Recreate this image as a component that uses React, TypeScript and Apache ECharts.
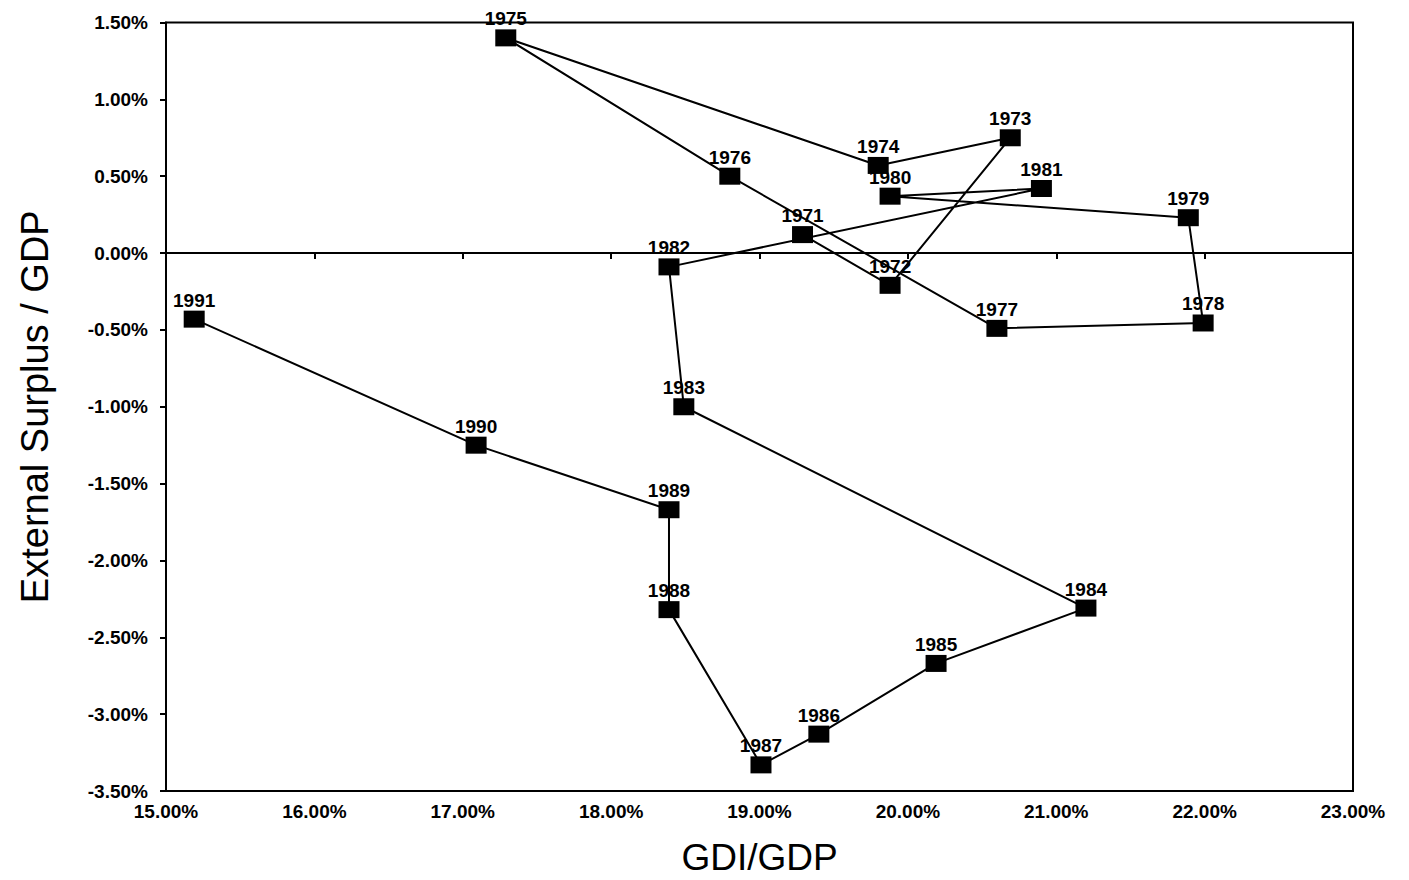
import React, { useEffect, useRef } from "react";
import * as echarts from "echarts";

const years = [1971, 1972, 1973, 1974, 1975, 1976, 1977, 1978, 1979, 1980, 1981, 1982, 1983, 1984, 1985, 1986, 1987, 1988, 1989, 1990, 1991];
const gdiGdp = [19.29, 19.88, 20.69, 19.8, 17.29, 18.8, 20.6, 21.99, 21.89, 19.88, 20.9, 18.39, 18.49, 21.2, 20.19, 19.4, 19.01, 18.39, 18.39, 17.09, 15.19];
const surplusGdp = [0.12, -0.21, 0.75, 0.57, 1.4, 0.5, -0.49, -0.455, 0.23, 0.37, 0.42, -0.09, -1.0, -2.31, -2.67, -3.13, -3.33, -2.32, -1.67, -1.25, -0.43];

const FONT = "'Liberation Sans', Arial, sans-serif";

export default function App() {
  const ref = useRef<HTMLDivElement>(null);
  useEffect(() => {
    if (!ref.current) return;
    const chart = echarts.init(ref.current, undefined, { renderer: "svg" });
    const data = years.map((y, i) => [gdiGdp[i], surplusGdp[i], y]);
    chart.setOption({
      animation: false,
      backgroundColor: "#ffffff",
      grid: {
        left: 166,
        right: 56,
        top: 22.5,
        bottom: 89,
        outerBoundsMode: "none",
        containLabel: false,
        show: true,
        borderColor: "#000",
        borderWidth: 2,
      },
      xAxis: {
        type: "value",
        min: 15,
        max: 23,
        interval: 1,
        name: "GDI/GDP",
        nameLocation: "middle",
        nameGap: 48,
        nameTextStyle: { fontFamily: FONT, fontSize: 37, color: "#000" },
        axisLine: { show: true, lineStyle: { color: "#000", width: 2 } },
        axisTick: { show: true, length: 6, lineStyle: { color: "#000", width: 2 } },
        axisLabel: {
          margin: 11,
          fontFamily: FONT,
          fontWeight: "bold",
          fontSize: 19,
          color: "#000",
          formatter: (v: number) => v.toFixed(2) + "%",
        },
        splitLine: { show: false },
      },
      yAxis: {
        type: "value",
        min: -3.5,
        max: 1.5,
        interval: 0.5,
        name: "External Surplus / GDP",
        nameLocation: "middle",
        nameGap: 112,
        nameTextStyle: { fontFamily: FONT, fontSize: 38, color: "#000" },
        axisLine: { show: true, lineStyle: { color: "#000", width: 2 } },
        axisTick: { show: true, length: 6, lineStyle: { color: "#000", width: 2 } },
        axisLabel: {
          margin: 18,
          fontFamily: FONT,
          fontWeight: "bold",
          fontSize: 19,
          color: "#000",
          formatter: (v: number) => v.toFixed(2) + "%",
        },
        splitLine: { show: false },
      },
      series: [
        {
          type: "line",
          data,
          symbol: "rect",
          symbolSize: [21, 17],
          itemStyle: { color: "#000" },
          lineStyle: { color: "#000", width: 2 },
          label: {
            show: true,
            position: "top",
            distance: 1,
            fontFamily: FONT,
            fontWeight: "bold",
            fontSize: 19,
            color: "#000",
            formatter: (p: any) => String(p.value[2]),
          },
          markLine: {
            silent: true,
            symbol: "none",
            label: { show: false },
            lineStyle: { color: "#000", type: [2, 2], width: 1.5 },
            data: [{ yAxis: 0 }],
          },
          z: 3,
        },
      ],
    });
    return () => chart.dispose();
  }, []);
  return (
    <div
      ref={ref}
      style={{ position: "fixed", left: 0, top: 0, width: 1409, height: 880, background: "#fff" }}
    />
  );
}
